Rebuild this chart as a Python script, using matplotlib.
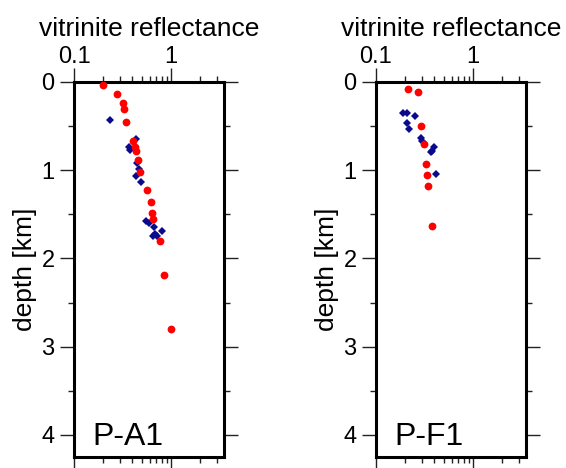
import matplotlib
matplotlib.use("Agg")
import matplotlib.pyplot as plt
from matplotlib.ticker import FixedLocator, NullFormatter, FuncFormatter, MultipleLocator

plt.rcParams['font.family'] = ['Liberation Sans', 'DejaVu Sans']

# P-A1 data
pa1_red_ro = [0.20, 0.277, 0.318, 0.331, 0.342, 0.403, 0.422, 0.436, 0.453, 0.475,
              0.56, 0.62, 0.64, 0.65, 0.76, 0.85, 1.0]
pa1_red_depth = [0.03, 0.136, 0.235, 0.307, 0.45, 0.667, 0.735, 0.78, 0.879, 1.02,
                 1.22, 1.36, 1.48, 1.55, 1.80, 2.19, 2.80]
pa1_blue_ro = [0.235, 0.43, 0.364, 0.379, 0.443, 0.464, 0.43, 0.494, 0.552, 0.597,
               0.66, 0.80, 0.68, 0.645, 0.71]
pa1_blue_depth = [0.435, 0.644, 0.735, 0.77, 0.917, 0.99, 1.065, 1.13, 1.576, 1.60,
                  1.64, 1.69, 1.72, 1.74, 1.75]

# P-F1 data
pf1_red_ro = [0.212, 0.268, 0.294, 0.309, 0.324, 0.334, 0.342, 0.375]
pf1_red_depth = [0.08, 0.11, 0.50, 0.70, 0.93, 1.05, 1.18, 1.63]
pf1_blue_ro = [0.19, 0.209, 0.25, 0.209, 0.219, 0.288, 0.299, 0.393, 0.379, 0.367, 0.41]
pf1_blue_depth = [0.35, 0.35, 0.386, 0.47, 0.53, 0.63, 0.67, 0.74, 0.78, 0.79, 1.04]

panels = [
    ("P-A1", pa1_red_ro, pa1_red_depth, pa1_blue_ro, pa1_blue_depth),
    ("P-F1", pf1_red_ro, pf1_red_depth, pf1_blue_ro, pf1_blue_depth),
]

x_major = [0.1, 1]
x_minor = [0.2, 0.3, 0.4, 0.5, 0.6, 0.7, 0.8, 0.9, 2, 3]
y_major = [0, 1, 2, 3, 4]

W, H = 566, 468
fig = plt.figure(figsize=(W / 100, H / 100), dpi=100)

lefts = [74, 376]
for (name, rro, rd, bro, bd), lp in zip(panels, lefts):
    ax = fig.add_axes([lp / W, (H - 457) / H, 150 / W, 375 / H])
    ax.set_xscale('log')
    ax.set_xlim(0.1, 3.5)
    ax.set_ylim(4.25, 0)
    ax.plot(bro, bd, linestyle='none', marker='D', color='#0a0a8c', markersize=4.2,
            markeredgewidth=0, zorder=3, clip_on=False)
    ax.plot(rro, rd, linestyle='none', marker='o', color='#ff0000', markersize=5.6,
            markeredgewidth=0, zorder=4, clip_on=False)
    ax.xaxis.set_major_locator(FixedLocator(x_major))
    ax.xaxis.set_minor_locator(FixedLocator(x_minor))
    ax.xaxis.set_major_formatter(FuncFormatter(lambda v, p: '0.1' if v < 0.5 else '1'))
    ax.xaxis.set_minor_formatter(NullFormatter())
    ax.yaxis.set_major_locator(FixedLocator(y_major))
    ax.yaxis.set_minor_locator(MultipleLocator(0.5))
    ax.yaxis.set_major_formatter(FuncFormatter(lambda v, p: '%d' % v))
    ax.tick_params(which='both', direction='out', top=True, bottom=True, left=True,
                   right=True, labeltop=True, labelbottom=False, labelleft=True,
                   labelright=False, width=1.0, color='#222222')
    ax.tick_params(which='major', length=10, labelsize=17)
    ax.tick_params(axis='x', which='major', pad=0)
    ax.tick_params(axis='y', which='major', pad=4)
    ax.tick_params(which='minor', length=4.5)
    ax.xaxis.set_label_position('top')
    ax.set_xlabel('vitrinite reflectance', fontsize=19, labelpad=7)
    ax.set_ylabel('depth [km]', fontsize=19, labelpad=3)
    for s in ax.spines.values():
        s.set_linewidth(2.2)
    ax.text(0.12, 0.032, name, transform=ax.transAxes, fontsize=23,
            ha='left', va='baseline')

fig.savefig('out.png', dpi=100)
